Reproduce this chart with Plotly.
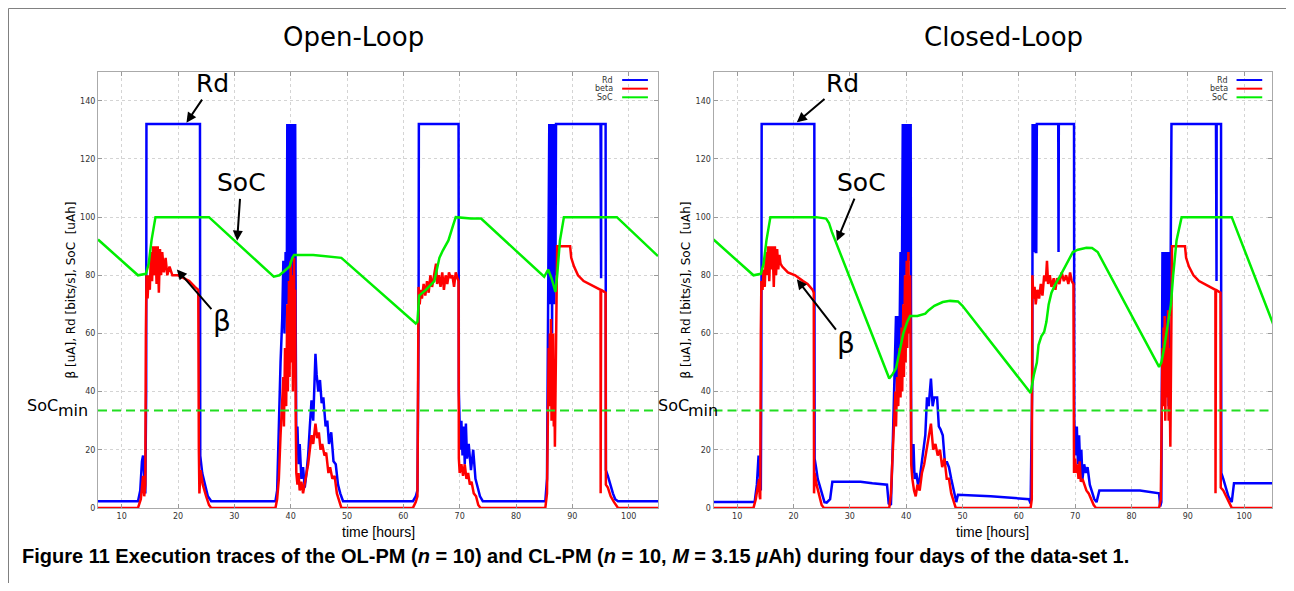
import plotly.graph_objects as go

# ---------------- data (time [h], value) ----------------
OL_RD = [(5.8,2.3),(12.9,2.3),(13.3,6),(13.6,16),(13.8,18),(14.0,10),(14.2,5),(14.35,40),(14.4,132),(23.9,132),(23.95,18),(24.3,12),(24.8,8),(25.3,4),(25.9,2.3),
 (37.3,2.3),(37.6,6),(37.9,30),(38.2,50),(38.5,65),(38.7,85),(38.9,60),(39.1,88),(39.3,70),(39.4,132),(39.5,80),(39.6,132),(39.7,75),(39.8,132),(39.9,90),(40.0,132),(40.1,70),(40.2,132),(40.3,85),(40.4,132),(40.5,78),(40.6,132),(40.7,95),(40.8,132),(40.9,60),(41.0,24),(41.2,28),(41.4,15),(41.6,22),(41.9,10),(42.2,14),(42.5,7),(42.8,12),(43.1,18),(43.4,28),(43.7,37),(44.0,30),(44.2,45),(44.4,53),(44.6,46),(44.9,40),(45.2,44),(45.5,36),(45.8,38),(46.2,28),(46.5,30),(46.8,22),(47.2,26),(47.6,16),(48.0,15),(48.4,8),(48.8,5),(49.3,2.3),
 (61.7,2.3),(62.2,4),(62.5,6),(62.7,60),(62.75,132),(69.8,132),(69.85,40),(70.1,20),(70.3,30),(70.5,18),(70.7,28),(70.9,15),(71.1,29),(71.3,17),(71.6,22),(72.0,13),(72.4,20),(72.8,10),(73.2,7),(73.6,4),(74.1,2.3),
 (85.2,2.3),(85.5,10),(85.7,60),(85.8,88),(85.9,132),(86.0,70),(86.1,132),(86.2,85),(86.3,132),(86.4,60),(86.5,132),(86.6,88),(86.7,132),(86.8,70),(86.9,132),(87.0,80),(87.1,132),(95.0,132),(95.02,79),(95.1,79),(95.12,132),(95.9,132),(95.95,13),(96.3,11),(96.7,8),(97.2,5),(97.6,3),(98.1,2.3),(105.2,2.3)]

OL_BETA = [(5.8,0),(12.9,0),(13.4,3),(13.7,8),(13.8,11),(14.0,4),(14.2,8),(14.3,60),(14.4,80),(14.6,72),(14.8,80),(15.0,75),(15.2,88),(15.4,78),(15.6,90),(15.8,80),(16.0,90),(16.2,77),(16.4,90),(16.6,74),(16.8,89),(17.0,80),(17.2,88),(17.5,81),(17.8,86),(18.1,80),(18.5,83),(19.0,80),(20.0,80),(21.0,79),(22.0,78),(23.0,76),(23.6,75),(23.7,20),(23.8,5),(24.0,13),(24.4,8),(25.0,4),(25.5,1),(25.9,0),
 (37.3,0),(37.6,3),(37.9,10),(38.2,25),(38.5,35),(38.7,45),(38.8,28),(39.0,55),(39.2,35),(39.4,70),(39.5,40),(39.7,78),(39.8,45),(40.0,85),(40.1,50),(40.3,80),(40.4,40),(40.6,86),(40.7,50),(40.8,75),(40.9,30),(41.0,12),(41.2,8),(41.4,12),(41.6,6),(41.9,9),(42.2,5),(42.5,8),(42.8,12),(43.1,15),(43.4,20),(43.7,25),(44.0,22),(44.4,29),(44.7,24),(45.0,26),(45.3,20),(45.6,22),(46.0,18),(46.3,19),(46.7,12),(47.0,14),(47.4,10),(47.8,11),(48.2,5),(48.6,2),(49.0,0),
 (61.7,0),(62.2,2),(62.5,4),(62.6,40),(62.7,76),(62.9,70),(63.1,75),(63.3,72),(63.6,77),(63.9,73),(64.2,78),(64.5,74),(64.8,80),(65.1,76),(65.5,80),(65.8,84),(66.0,77),(66.3,80),(66.6,76),(66.9,81),(67.2,75),(67.5,80),(67.8,77),(68.1,81),(68.4,79),(68.7,80),(69.0,76),(69.3,81),(69.6,79),(69.8,78),(69.85,17),(70.0,12),(70.3,15),(70.6,11),(70.9,15),(71.2,10),(71.5,12),(71.8,8),(72.1,9),(72.5,5),(72.9,4),(73.3,1),(73.7,0),
 (85.2,0),(85.5,5),(85.7,40),(85.8,55),(85.9,35),(86.0,60),(86.1,40),(86.2,65),(86.3,30),(86.4,55),(86.5,38),(86.6,60),(86.7,28),(86.8,45),(86.9,21),(87.0,40),(87.2,70),(87.3,90),(89.6,90),(89.8,86),(90.3,83),(91.0,80),(92.0,78),(93.0,77),(94.0,76),(95.0,75),(95.02,5),(95.1,75),(95.9,74),(95.95,8),(96.3,7),(96.8,4),(97.4,2),(98.1,0),(105.2,0)]

OL_SOC = [(5.8,92.3),(12.9,80),(14.3,80.5),(14.8,84),(15.3,92),(16.0,100),(25.5,100),(37.0,79.5),(38.0,80),(39.1,82),(39.8,83),(40.3,86),(40.6,87),(44.0,87),(47.0,86.5),(49.0,86),(62.2,63.4),(62.5,64),(62.8,73),(64.0,75),(65.5,78),(66.0,82),(66.4,86),(67.0,88.5),(68.0,92),(68.8,97),(69.3,100),(72.0,99.5),(73.8,99.5),(85.0,79.5),(85.7,82),(86.3,79),(87.0,74.3),(87.3,80),(87.8,92),(88.5,100),(97.9,100),(105.2,86.6)]

CL_RD = [(5.8,2.0),(13.1,2.0),(13.5,8),(13.8,18),(14.0,12),(14.2,6),(14.3,50),(14.35,132),(23.7,132),(23.75,17),(24.0,14),(24.3,10),(24.6,8),(25.0,5),(25.5,2),(25.9,1.8),(26.5,3),(26.9,9),(31.9,9),(34.0,8.5),(36.6,8),(36.9,1.5),(37.3,1),(37.6,20),(37.9,45),(38.2,66),(38.4,40),(38.6,66),(38.8,55),(39.0,88),(39.2,60),(39.3,88),(39.4,132),(39.5,70),(39.6,132),(39.7,88),(39.8,132),(39.9,80),(40.0,132),(40.1,88),(40.2,132),(40.3,75),(40.4,132),(40.5,90),(40.6,132),(40.7,85),(40.8,132),(40.9,22),(41.1,12),(41.3,22),(41.5,10),(41.8,12),(42.1,8),(42.4,10),(42.7,15),(43.0,20),(43.4,25),(43.7,38),(44.0,35),(44.4,44.5),(44.7,35),(45.0,38),(45.5,38),(45.8,28),(46.1,27),(46.5,25),(46.9,15),(47.2,16),(47.6,14),(48.0,10),(48.5,5),(48.9,2),(49.2,4.5),(55.0,4.0),(61.8,3.0),(62.1,1.5),(62.4,45),(62.45,132),(62.6,88),(62.7,132),(62.8,88),(62.9,132),(63.0,88),(63.1,88),(63.2,132),(67.0,132),(67.05,88),(67.1,132),(69.8,132),(69.85,30),(70.1,18),(70.3,28),(70.5,15),(70.7,25),(70.9,14),(71.1,20),(71.3,10),(71.6,15),(71.9,12),(72.2,14),(72.6,8),(73.0,5),(73.4,3),(73.8,2),(74.3,6),(74.7,6),(81.5,6),(84.9,5),(85.1,0.5),(85.3,2),(85.4,60),(85.5,88),(85.6,50),(85.7,88),(85.8,65),(85.9,88),(86.0,40),(86.2,88),(86.3,60),(86.5,88),(86.6,35),(86.7,88),(86.9,66),(87.0,88),(87.1,132),(95.0,132),(95.02,78),(95.1,78),(95.12,132),(95.9,132),(95.95,12),(96.3,10),(96.7,7),(97.2,4),(97.8,2),(98.2,8.5),(105.2,8.5)]

CL_BETA = [(5.8,0),(12.9,0),(13.3,3),(13.7,8),(13.9,10),(14.0,4),(14.1,3),(14.2,60),(14.3,78),(14.5,75),(14.7,82),(14.9,76),(15.1,88),(15.3,80),(15.5,90),(15.7,78),(15.9,90),(16.1,82),(16.3,90),(16.5,76),(16.7,90),(16.9,80),(17.1,89),(17.3,82),(17.5,87),(17.7,84),(18.0,83),(19.0,81),(20.3,80),(21.7,78),(22.5,77),(23.4,75),(23.6,74),(23.65,5),(23.75,12),(24.1,8),(24.6,4),(25.0,1),(25.4,0),
 (37.0,0),(37.3,5),(37.6,20),(37.9,30),(38.1,40),(38.2,28),(38.4,45),(38.6,35),(38.8,55),(39.0,38),(39.2,62),(39.3,40),(39.5,70),(39.6,45),(39.8,80),(39.9,50),(40.1,85),(40.2,55),(40.4,88),(40.5,60),(40.7,80),(40.8,50),(40.9,15),(41.1,10),(41.4,6),(41.7,4),(42.0,8),(42.4,6),(42.8,12),(43.2,15),(43.6,20),(44.0,25),(44.4,29),(44.8,20),(45.2,22),(45.6,18),(46.0,20),(46.4,14),(46.8,17),(47.2,10),(47.6,10),(48.0,5),(48.4,2),(48.8,0),
 (62.1,0),(62.3,3),(62.4,80),(62.6,72),(62.8,76),(63.0,70),(63.3,75),(63.6,72),(63.9,77),(64.2,73),(64.5,80),(64.8,78),(65.0,85),(65.2,77),(65.5,80),(65.8,76),(66.2,79),(66.5,75),(66.8,79),(67.2,77),(67.6,81),(68.0,78),(68.4,80),(68.8,77),(69.1,81),(69.4,78),(69.7,77),(69.8,12),(70.0,17),(70.2,12),(70.4,15),(70.6,10),(70.8,16),(71.0,9),(71.3,10),(71.6,8),(72.0,6),(72.4,5),(72.8,3),(73.3,1),(73.7,0),
 (84.9,0),(85.2,3),(85.4,35),(85.5,55),(85.6,35),(85.7,62),(85.8,40),(85.9,66),(86.0,30),(86.2,60),(86.3,38),(86.5,68),(86.6,30),(86.7,55),(86.9,21),(87.0,45),(87.1,70),(87.2,90),(89.5,90),(89.7,86),(90.2,83),(91.0,80),(92.0,78),(93.0,77),(94.0,76),(94.9,75),(94.92,5),(95.0,75),(95.8,74),(95.85,7),(96.3,6),(96.8,4),(97.3,2),(97.8,0),(105.2,0)]

CL_SOC = [(5.8,92.3),(12.9,80),(14.2,80.5),(14.7,84),(15.2,92),(15.9,100),(24.0,100),(25.4,99.8),(25.8,99.5),(26.3,98),(26.8,95),(37.0,44.5),(37.6,46),(38.2,48),(38.8,54),(39.5,60),(40.2,64),(40.7,66),(42.0,66),(43.4,66.8),(44.0,68),(45.0,69.5),(46.5,70.8),(47.8,71.2),(49.2,71),(50.0,69.5),(62.1,39.5),(62.4,43),(62.7,46),(63.2,50),(63.5,56),(64.0,59),(64.5,60.5),(64.9,64),(65.3,70),(65.8,74),(66.5,77),(67.4,80),(68.2,83),(69.0,86),(69.6,88),(70.5,88.8),(72.0,89.5),(73.0,89.4),(74.0,88),(84.9,48.5),(85.3,50),(85.8,55),(86.4,62),(87.0,70),(87.4,80),(88.0,92),(88.9,100),(97.8,100),(105.2,63)]

SOC_MIN = 33.5
PANEL_TITLES = ["Open-Loop", "Closed-Loop"]
SERIES_NAMES = ["Rd", "beta", "SoC"]
SERIES_COLORS = ["#0000ff", "#ff0000", "#00ee00"]
X_TICKS = [10, 20, 30, 40, 50, 60, 70, 80, 90, 100]
Y_TICKS = [0, 20, 40, 60, 80, 100, 120, 140]

# the page body has an 8px margin on every side: lay out in window pixels, then shift
OFF = 8
W, H = 1294 - OFF, 591 - 2 * OFF


def fx(px):
    return (px - OFF) / W


def fy(py):
    return (H - (py - OFF)) / H


fig = go.Figure()

panels = [("x", "y", [OL_RD, OL_BETA, OL_SOC]), ("x2", "y2", [CL_RD, CL_BETA, CL_SOC])]
for xa, ya, series in panels:
    for name, color, data in zip(SERIES_NAMES, SERIES_COLORS, series):
        t, v = zip(*data)
        fig.add_trace(go.Scatter(x=t, y=v, mode="lines", name=name, xaxis=xa, yaxis=ya,
                                 line=dict(color=color, width=2.5), showlegend=False,
                                 hoverinfo="skip"))

ax_common = dict(showline=True, linecolor="#aaaaaa", linewidth=1, mirror="ticks",
                 ticks="inside", ticklen=4, tickcolor="#999999",
                 showgrid=True, gridcolor="#d4d4d4", griddash="dot", gridwidth=1,
                 zeroline=False, tickfont=dict(family="DejaVu Sans", size=8, color="#333333"))
ybot = fy(512.3)
ytop = fy(72.3)
fig.update_layout(
    width=W, height=H, autosize=False, margin=dict(l=0, r=0, t=0, b=0),
    plot_bgcolor="white", paper_bgcolor="white",
    xaxis=dict(domain=[fx(98), fx(658)], range=[5.8, 105.2], tickvals=X_TICKS, anchor="y", **ax_common),
    yaxis=dict(domain=[ybot, ytop], range=[0, 150], tickvals=Y_TICKS, anchor="x", **ax_common),
    xaxis2=dict(domain=[fx(713.5), fx(1272.3)], range=[5.8, 105.0], tickvals=X_TICKS, anchor="y2", **ax_common),
    yaxis2=dict(domain=[ybot, ytop], range=[0, 150], tickvals=Y_TICKS, anchor="x2", **ax_common),
)

shapes = []
ann = []
# outer frame
shapes.append(dict(type="rect", xref="paper", yref="paper", x0=fx(8.5), x1=fx(1287),
                   y0=-0.05, y1=fy(8.5), line=dict(color="#808080", width=1)))

arrow_specs = [
    # (xaxis, yaxis, label, head_x, head_y, text_x, text_y, size)
    ("x", "y", "Rd", 21.5, 132.5, 26.2, 145.9, 25),
    ("x", "y", "SoC", 30.5, 91.9, 31.2, 111.8, 25),
    ("x", "y", "β", 19.8, 82.0, 27.8, 64.2, 28),
    ("x2", "y2", "Rd", 20.6, 132.6, 28.7, 145.9, 25),
    ("x2", "y2", "SoC", 27.7, 91.8, 32.0, 111.9, 25),
    ("x2", "y2", "β", 20.6, 78.6, 29.4, 56.7, 28),
]
for xa, ya, label, hx, hy, tx, ty, sz in arrow_specs:
    ann.append(dict(xref=xa, yref=ya, axref=xa, ayref=ya, x=hx, y=hy, ax=tx, ay=ty,
                    text=label, showarrow=True, arrowhead=2, arrowsize=1, arrowwidth=2,
                    arrowcolor="black", font=dict(family="DejaVu Sans", size=sz, color="black")))

title_x = [fx(353), fx(1003)]
for i, (xa, ya) in enumerate([("x", "y"), ("x2", "y2")]):
    xd = xa + " domain"
    yd = ya + " domain"
    # SoC_min threshold line
    shapes.append(dict(type="line", xref=xd, yref=ya, x0=0, x1=1, y0=SOC_MIN, y1=SOC_MIN,
                       line=dict(color="#22dd22", width=2, dash="9px,5px")))
    # custom legend (text left, sample line right)
    for k, (name, color) in enumerate(zip(SERIES_NAMES, SERIES_COLORS)):
        yy = 0.981 - 0.0198 * k
        ann.append(dict(xref=xd, yref=yd, x=0.924, y=yy, xanchor="right", yanchor="middle",
                        text=name, showarrow=False,
                        font=dict(family="DejaVu Sans", size=8, color="#333333")))
        shapes.append(dict(type="line", xref=xd, yref=yd, x0=0.936, x1=0.982, y0=yy, y1=yy,
                           line=dict(color=color, width=2)))
    # panel title
    ann.append(dict(xref="paper", yref="paper", x=title_x[i], y=fy(37),
                    text=PANEL_TITLES[i], showarrow=False, xanchor="center", yanchor="middle",
                    font=dict(family="DejaVu Sans", size=26, color="black")))
    # x axis title
    ann.append(dict(xref=xd, yref="paper", x=0.5, y=fy(537), text="time [hours]",
                    showarrow=False, xanchor="center", yanchor="middle",
                    font=dict(family="Liberation Sans", size=14, color="black")))

# y axis titles
for px in (71, 686):
    ann.append(dict(xref="paper", yref="paper", x=fx(px), y=fy(293), textangle=-90,
                    text="β [uA], Rd [bits/s], SoC  [uAh]", showarrow=False,
                    xanchor="center", yanchor="middle",
                    font=dict(family="DejaVu Sans", size=12, color="black")))

# SoC_min labels
for sx, mx in ((42, 72.5), (673, 703)):
    ann.append(dict(xref="paper", yref="paper", x=fx(sx), y=fy(409), text="SoC",
                    showarrow=False, xanchor="center", yanchor="middle",
                    font=dict(family="DejaVu Sans", size=16, color="black")))
    ann.append(dict(xref="paper", yref="paper", x=fx(mx), y=fy(414), text="min",
                    showarrow=False, xanchor="center", yanchor="middle",
                    font=dict(family="DejaVu Sans", size=16, color="black")))

# caption
ann.append(dict(xref="paper", yref="paper", x=fx(20), y=fy(561), xanchor="left", yanchor="middle",
                text="<b>Figure 11 Execution traces of the OL-PM (<i>n</i> = 10) and CL-PM (<i>n</i> = 10, <i>M</i> = 3.15 <i>μ</i>Ah) during four days of the data-set 1.</b>",
                showarrow=False,
                font=dict(family="Liberation Sans", size=20, color="black")))

fig.update_layout(shapes=shapes, annotations=ann)
fig.write_html("out.html")
